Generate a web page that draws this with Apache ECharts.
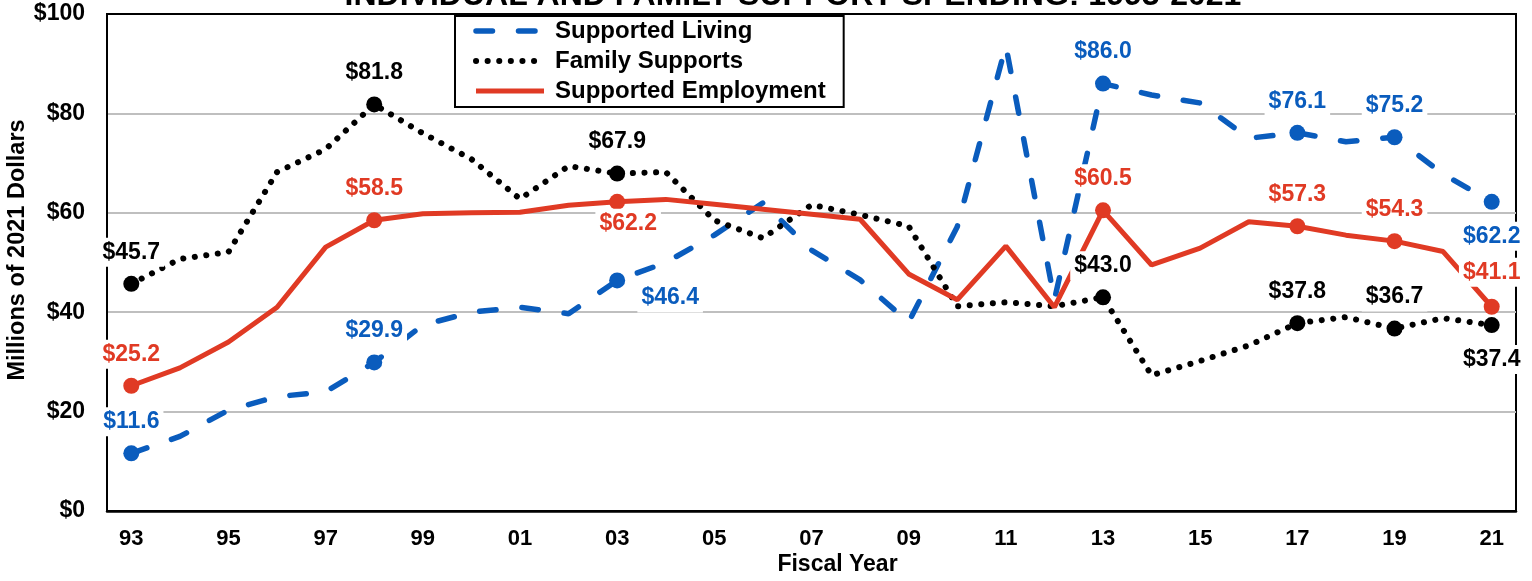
<!DOCTYPE html>
<html>
<head>
<meta charset="utf-8">
<script src="https://cdn.jsdelivr.net/npm/echarts@6/dist/echarts.min.js"></script>
<style>
    html, body { margin: 0; padding: 0; background: #fff; }
    #main { width: 1532px; height: 581px; }
</style>
</head>
<body>
<div id="main"></div>
<script>
var years = ['93', '94', '95', '96', '97', '98', '99', '00', '01', '02', '03', '04', '05', '06', '07',
    '08', '09', '10', '11', '12', '13', '14', '15', '16', '17', '18', '19', '20', '21'];
var supportedLiving = [11.6, 15.0, 20.3, 23.0, 24.0, 29.9, 37.4, 40.0, 41.0, 39.7, 46.4, 50.0, 55.5, 62.0, 52.5,
    46.5, 38.0, 57.2, 93.6, 42.5, 86.0, 83.7, 82.1, 75.0, 76.1, 74.3, 75.2, 67.8, 62.2];
var familySupports = [45.7, 50.7, 52.1, 68.2, 72.8, 81.8, 76.0, 70.8, 62.8, 69.4, 67.9, 68.2, 58.5, 54.9, 61.6,
    59.6, 57.3, 41.2, 42.0, 41.2, 43.0, 27.3, 30.2, 33.3, 37.8, 39.0, 36.7, 38.8, 37.4];
var supportedEmployment = [25.2, 28.8, 34.0, 41.0, 53.1, 58.5, 59.8, 60.0, 60.1, 61.5, 62.2, 62.7, 61.7, 60.7, 59.7,
    58.7, 47.7, 42.5, 53.3, 41.0, 60.5, 49.5, 52.9, 58.2, 57.3, 55.5, 54.3, 52.2, 41.1];
// years that carry a marker + value label (93, 98, 03, 13, 17, 19, 21)
var markedIdx = [0, 5, 10, 20, 24, 26, 28];

var BLUE = '#0A5CBD';
var RED = '#E03A24';
var BLACK = '#000';
var FONT = '"Liberation Sans", Arial, sans-serif';

var livingLine = { color: BLUE, width: 5.5, type: [16.5, 26], cap: 'round' };
var familyLine = { color: BLACK, width: 6, type: [0.1, 11.5], cap: 'round' };
var employmentLine = { color: RED, width: 5 };

// label placement tweaks, by data index
var livingLabels = {
    10: { position: 'bottom', distance: -5, offset: [53, 0] },
    28: { position: 'bottom', distance: 12 }
};
var familyLabels = {
    28: { position: 'bottom', distance: 12 }
};
var employmentLabels = {
    10: { position: 'bottom', distance: -1, offset: [11, 0] },
    28: { distance: 12 }
};

function buildData(values, adjust) {
    return values.map(function (v, i) {
        if (markedIdx.indexOf(i) < 0) {
            return { value: v };
        }
        var label = Object.assign({ show: true, position: 'top', distance: 9 }, adjust[i] || {});
        return { value: v, symbol: 'circle', symbolSize: 16, label: label };
    });
}

function labelStyle(color) {
    return {
        show: false,
        color: color,
        fontSize: 23,
        fontWeight: 'bold',
        fontFamily: FONT,
        backgroundColor: '#fff',
        padding: [3, 4],
        formatter: function (p) {
            return '$' + p.value.toFixed(1);
        }
    };
}

var mychart = echarts.init(document.getElementById('main'));
var option = {
    animation: false,
    textStyle: { fontFamily: FONT },
    graphic: [
        {
            type: 'text',
            x: 793,
            y: 12,
            style: {
                text: 'INDIVIDUAL AND FAMILY SUPPORT SPENDING: 1993-2021',
                font: 'bold 32px ' + FONT,
                fill: '#000',
                align: 'center',
                verticalAlign: 'bottom'
            }
        }
    ],
    grid: {
        left: 107,
        right: 16,
        top: 14,
        bottom: 70,
        outerBoundsMode: 'none',
        show: true,
        borderColor: '#000',
        borderWidth: 2
    },
    legend: {
        data: [
            { name: 'Supported Living', lineStyle: livingLine },
            { name: 'Family Supports', lineStyle: familyLine },
            { name: 'Supported Employment', lineStyle: employmentLine }
        ],
        orient: 'vertical',
        left: 455,
        top: 16,
        padding: [3, 18, 4, 18],
        itemWidth: 68,
        itemHeight: 20,
        itemGap: 6,
        borderColor: '#000',
        borderWidth: 2,
        backgroundColor: '#fff',
        itemStyle: { opacity: 0 },
        textStyle: {
            color: '#000',
            fontSize: 24,
            fontWeight: 'bold',
            lineHeight: 24,
            padding: [0, 0, 0, 6]
        }
    },
    xAxis: {
        type: 'category',
        data: years,
        boundaryGap: true,
        name: 'Fiscal Year',
        nameLocation: 'middle',
        nameGap: 42,
        nameMoveOverlap: false,
        nameTextStyle: {
            color: '#000',
            fontSize: 23,
            fontWeight: 'bold',
            padding: [0, 0, 0, 52]
        },
        axisLine: {
            lineStyle: { color: '#000', width: 2.5 }
        },
        axisTick: { show: false },
        axisLabel: {
            interval: 1,
            margin: 17,
            color: '#000',
            fontSize: 22,
            fontWeight: 'bold'
        }
    },
    yAxis: {
        type: 'value',
        min: 0,
        max: 100,
        interval: 20,
        name: 'Millions of 2021 Dollars',
        nameLocation: 'middle',
        nameGap: 77,
        nameMoveOverlap: false,
        nameRotate: 90,
        nameTextStyle: {
            color: '#000',
            fontSize: 23.5,
            fontWeight: 'bold',
            padding: [0, 0, 0, 25]
        },
        axisLine: {
            show: true,
            lineStyle: { color: '#000', width: 2 }
        },
        axisTick: { show: false },
        axisLabel: {
            margin: 22,
            color: '#000',
            fontSize: 23,
            fontWeight: 'bold',
            formatter: '${value}'
        },
        splitLine: {
            lineStyle: {
                color: ['#000', '#BFBFBF', '#BFBFBF', '#BFBFBF', '#BFBFBF', '#000'],
                width: 2
            }
        }
    },
    series: [
        {
            name: 'Supported Living',
            type: 'line',
            symbol: 'none',
            color: BLUE,
            lineStyle: livingLine,
            itemStyle: { color: BLUE },
            label: labelStyle(BLUE),
            data: buildData(supportedLiving, livingLabels)
        },
        {
            name: 'Family Supports',
            type: 'line',
            symbol: 'none',
            color: BLACK,
            lineStyle: familyLine,
            itemStyle: { color: BLACK },
            label: labelStyle(BLACK),
            data: buildData(familySupports, familyLabels)
        },
        {
            name: 'Supported Employment',
            type: 'line',
            symbol: 'none',
            color: RED,
            lineStyle: employmentLine,
            itemStyle: { color: RED },
            label: labelStyle(RED),
            data: buildData(supportedEmployment, employmentLabels)
        }
    ]
};
mychart.setOption(option);
window.addEventListener('resize', function () {
    mychart.resize();
});
</script>
</body>
</html>
